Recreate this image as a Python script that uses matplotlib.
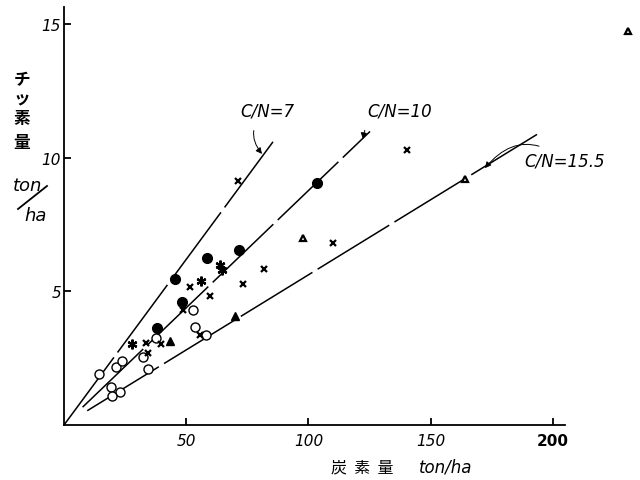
import matplotlib
matplotlib.use("Agg")
import matplotlib.pyplot as plt
import numpy as np
from matplotlib.lines import Line2D

plt.rcParams['font.family'] = ['DejaVu Sans', 'Noto Sans CJK JP']

# ----- data (carbon ton/ha, nitrogen ton/ha) -----
OPEN_C_X = [14.4, 21.3, 23.9, 19.2, 22.9, 19.5, 32.3, 34.2, 37.6, 52.8, 53.4, 58.2]
OPEN_C_Y = [1.89, 2.18, 2.38, 1.44, 1.25, 1.07, 2.54, 2.11, 3.27, 4.32, 3.67, 3.36]

FILL_C_X = [45.4, 48.3, 38.0, 58.5, 71.4, 103.4]
FILL_C_Y = [5.46, 4.60, 3.63, 6.25, 6.55, 9.04]

CROSS_X = [33.4, 39.5, 34.2, 51.5, 48.7, 59.9, 73.2, 81.8, 71.3, 110.1, 140.2, 55.6]
CROSS_Y = [3.06, 3.03, 2.68, 5.15, 4.30, 4.84, 5.26, 5.84, 9.12, 6.80, 10.30, 3.35]

STAR_X = [27.7, 55.9, 64.0, 64.6]
STAR_Y = [3.03, 5.38, 6.00, 5.80]

FILL_T_X = [43.4, 70.1]
FILL_T_Y = [3.13, 4.09]

OPEN_T_X = [97.9, 164.0, 230.8]
OPEN_T_Y = [6.98, 9.20, 14.73]

# reference lines: label, C/N ratio as drawn, x extent
LINE_LABELS = ["C/N=7", "C/N=10", "C/N=15.5"]
LINE_RATIO = [8.07, 11.4, 17.8]
LINE_X0 = [0.0, 7.6, 9.5]
LINE_X1 = [85.5, 125.2, 193.5]
LABEL_XY = [(83.0, 11.75), (137.4, 11.75), (204.9, 9.88)]
ARROW_XY = [(81.0, 10.14), (122.3, 10.70), (172.2, 9.61)]

X_TICKS = [50, 100, 150, 200]
Y_TICKS = [5, 10, 15]

W, H = 640, 481
fig = plt.figure(figsize=(W / 100, H / 100), dpi=100)
ax = fig.add_axes([64 / W, 55 / H, 572 / W, 421 / H])
ax.set_xlim(0, 234)
ax.set_ylim(0, 15.75)

for lab, r, x0, x1 in zip(LINE_LABELS, LINE_RATIO, LINE_X0, LINE_X1):
    xs = np.array([x0, x1])
    ax.plot(xs, xs / r, color="black", lw=1.1, ls=(0, (55, 4)), zorder=1)

for lab, txy, axy in zip(LINE_LABELS, LABEL_XY, ARROW_XY):
    ax.annotate(lab, xy=axy, xytext=txy, ha="center", va="center",
                fontsize=12, style="italic",
                arrowprops=dict(arrowstyle="-|>", color="black", lw=0.7,
                                mutation_scale=9, shrinkA=6, shrinkB=0,
                                connectionstyle="arc3,rad=0.5"))

ax.plot(OPEN_C_X, OPEN_C_Y, "o", ms=6.5, mfc="white", mec="black", mew=1.0, zorder=3)
ax.plot(FILL_C_X, FILL_C_Y, "o", ms=7, mfc="black", mec="black", zorder=3)
ax.plot(CROSS_X, CROSS_Y, "x", ms=5, mec="black", mew=1.6, zorder=4)
ax.plot(STAR_X, STAR_Y, marker=(6, 2, 0), ls="none", ms=7, mec="black", mew=1.6, zorder=4)
ax.plot(FILL_T_X, FILL_T_Y, "^", ms=5.5, mfc="black", mec="black", zorder=3)
ax.plot(OPEN_T_X, OPEN_T_Y, "^", ms=5, mfc="white", mec="black", mew=1.6, zorder=3)

for s in ["top", "right"]:
    ax.spines[s].set_visible(False)
ax.spines["left"].set_bounds(0, 15.65)
ax.spines["bottom"].set_bounds(0, 205)
for s in ["left", "bottom"]:
    ax.spines[s].set_linewidth(1.3)

ax.set_xticks(X_TICKS)
ax.set_yticks(Y_TICKS)
ax.set_xticklabels([str(t) for t in X_TICKS], fontsize=11, style="italic")
ax.set_yticklabels([str(t) for t in Y_TICKS], fontsize=11, style="italic")
ax.get_xticklabels()[-1].set_fontweight("bold")
ax.get_xticklabels()[-1].set_style("normal")
ax.tick_params(axis="x", direction="in", length=5, width=1.3, pad=6)
ax.tick_params(axis="y", direction="in", length=5, width=1.3, pad=2)

# axis titles
cjk = ["Noto Sans CJK JP", "DejaVu Sans"]
for ch, py in zip(["チ", "ッ", "素", "量"], [80, 99, 119, 143]):
    fig.text(22 / W, 1 - py / H, ch, ha="center", va="center",
             fontsize=12, family=cjk, fontweight="bold")
fig.text(28 / W, 1 - 186 / H, "ton", ha="center", va="center",
         fontsize=13, style="italic")
fig.text(36 / W, 1 - 216 / H, "ha", ha="center", va="center",
         fontsize=13, style="italic")
fig.add_artist(Line2D([18 / W, 47 / W], [1 - 210 / H, 1 - 187 / H],
                      transform=fig.transFigure, color="black", lw=1.3))

fig.text(362 / W, 1 - 468 / H, "炭  素  量", ha="center", va="center",
         fontsize=11.5, family=cjk)
fig.text(446 / W, 1 - 468 / H, "ton/ha", ha="center", va="center",
         fontsize=12, style="italic")

fig.savefig("out.png", dpi=100)
